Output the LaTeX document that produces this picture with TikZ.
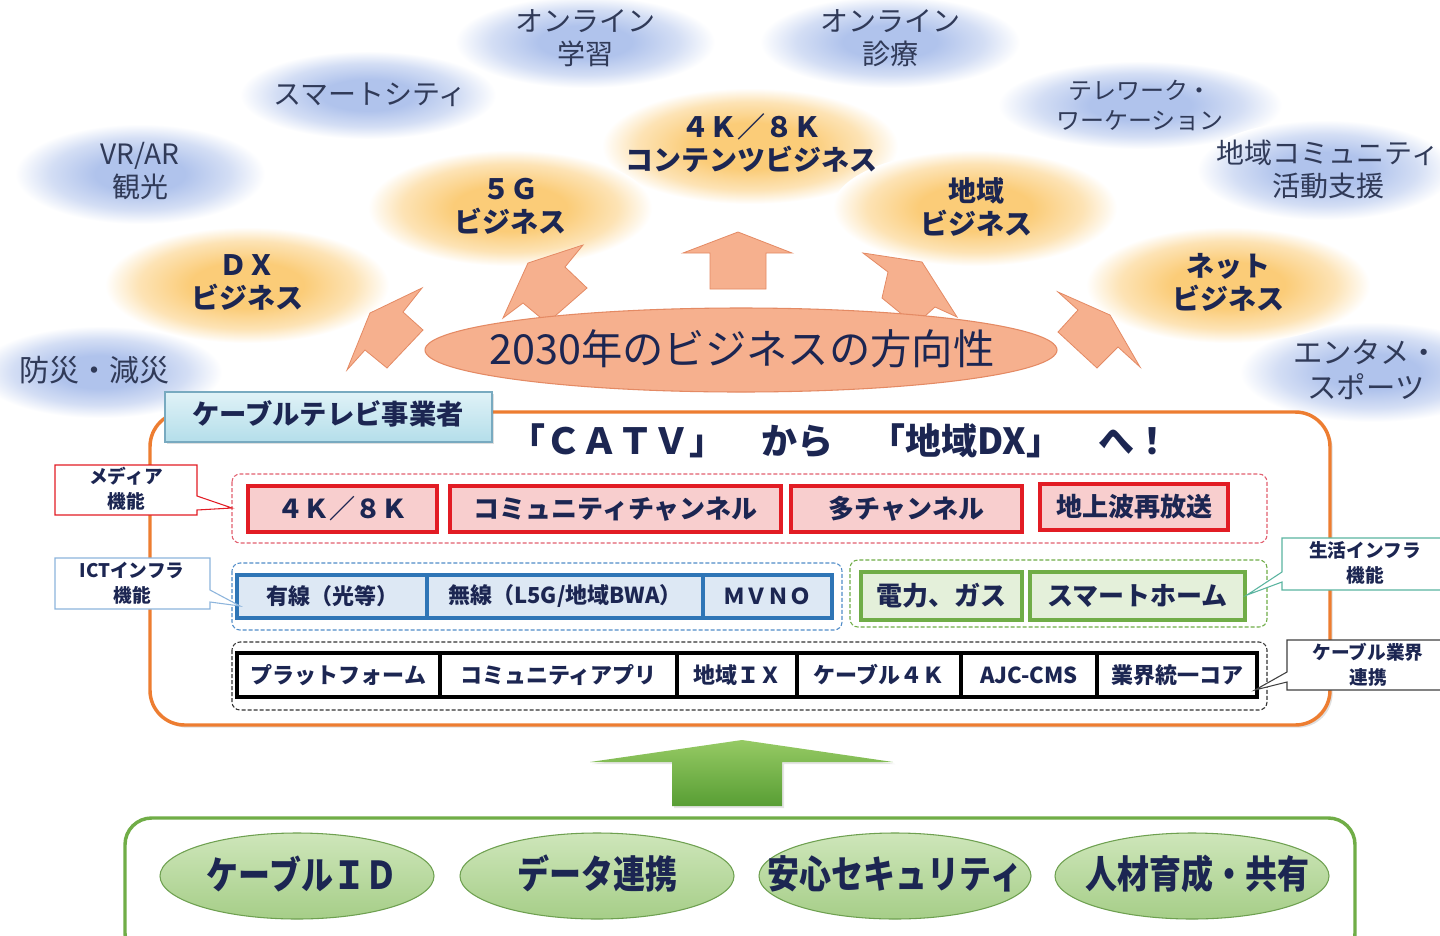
\documentclass[tikz,border=0pt]{standalone}
\usepackage{fontspec}
\setmainfont{Noto Sans CJK JP}
\usetikzlibrary{shadows}
\definecolor{cb}{RGB}{176,195,236}
\definecolor{co}{RGB}{251,204,120}
\definecolor{navy}{RGB}{28,38,82}
\definecolor{cloudtext}{RGB}{48,58,88}
\definecolor{salmon}{RGB}{246,176,142}
\definecolor{salmonedge}{RGB}{228,138,100}
\definecolor{orangeedge}{RGB}{237,125,49}
\definecolor{redline}{RGB}{226,28,36}
\definecolor{redfill}{RGB}{248,206,206}
\definecolor{reddash}{RGB}{226,96,112}
\definecolor{blueline}{RGB}{46,117,182}
\definecolor{bluefill}{RGB}{221,232,244}
\definecolor{bluedash}{RGB}{80,140,200}
\definecolor{greenline}{RGB}{112,173,71}
\definecolor{greenfill}{RGB}{228,240,218}
\definecolor{cyantop}{RGB}{224,242,247}
\definecolor{cyanbot}{RGB}{180,222,234}
\definecolor{cyanedge}{RGB}{120,170,192}
\definecolor{ictedge}{RGB}{140,180,220}
\definecolor{lifeedge}{RGB}{90,180,160}
\definecolor{gtop}{RGB}{206,230,186}
\definecolor{gbot}{RGB}{166,206,136}
\definecolor{gedge}{RGB}{110,160,80}
\definecolor{garrtop}{RGB}{150,202,100}
\definecolor{garrbot}{RGB}{88,158,52}
\pgfdeclareradialshading{bluecloud}{\pgfpoint{0bp}{0bp}}{color(0bp)=(cb); color(9bp)=(cb); color(18bp)=(cb!55!white); color(25bp)=(white); color(50bp)=(white)}
\pgfdeclareradialshading{orangecloud}{\pgfpoint{0bp}{0bp}}{color(0bp)=(co); color(10bp)=(co); color(19bp)=(co!55!white); color(25bp)=(white); color(50bp)=(white)}
\begin{document}
\begin{tikzpicture}[x=0.75pt,y=-0.75pt,
  ctxt/.style={text=cloudtext, align=center, inner sep=0pt, font=\fontsize{21}{24.75}\selectfont},
  ctxtsmall/.style={text=cloudtext, align=center, inner sep=0pt, font=\fontsize{18}{22.5}\selectfont},
  otxt/.style={text=navy, align=center, inner sep=0pt, font=\bfseries\fontsize{21}{24.75}\selectfont},
  barrow/.style={fill=salmon, draw=salmonedge, line width=0.6pt},
  grp/.style={rounded corners=6pt, line width=0.8pt, dash pattern=on 3pt off 1.5pt},
  rbox/.style={fill=redfill, draw=redline, line width=2.4pt},
  bbox/.style={fill=bluefill, draw=blueline, line width=2.4pt},
  gbox/.style={fill=greenfill, draw=greenline, line width=2.4pt},
  kbox/.style={fill=white, draw=black, line width=2.8pt},
  rtxt/.style={text=navy, inner sep=0pt, font=\bfseries\fontsize{19.5}{22}\selectfont},
  btxt/.style={text=navy, inner sep=0pt, font=\bfseries\fontsize{16.5}{20}\selectfont},
  ktxt/.style={text=navy, inner sep=0pt, font=\bfseries\fontsize{16.5}{20}\selectfont},
  calltxt/.style={text=navy, align=center, inner sep=0pt, font=\bfseries\fontsize{14}{18.75}\selectfont},
  geli/.style={top color=gtop, bottom color=gbot, draw=gedge, line width=0.8pt},
  gtxt/.style={text=navy, inner sep=0pt, font=\bfseries\fontsize{24}{28}\selectfont},
]
\useasboundingbox (0,0) rectangle (1440,936);
\clip (0,0) rectangle (1440,936);
\fill[white] (0,0) rectangle (1440,936);

% ---- blue clouds
\shade[shading=bluecloud] (585,42) ellipse [x radius=130, y radius=46];
\shade[shading=bluecloud] (890,42) ellipse [x radius=130, y radius=46];
\shade[shading=bluecloud] (368,95) ellipse [x radius=128, y radius=44];
\shade[shading=bluecloud] (140,174) ellipse [x radius=125, y radius=50];
\shade[shading=bluecloud] (100,372) ellipse [x radius=122, y radius=46];
\shade[shading=bluecloud] (1140,105) ellipse [x radius=142, y radius=44];
\shade[shading=bluecloud] (1325,170) ellipse [x radius=128, y radius=50];
\shade[shading=bluecloud] (1372,372) ellipse [x radius=132, y radius=50];
% ---- orange clouds
\shade[shading=orangecloud] (750,146) ellipse [x radius=148, y radius=58];
\shade[shading=orangecloud] (510,208) ellipse [x radius=142, y radius=58];
\shade[shading=orangecloud] (975,208) ellipse [x radius=142, y radius=58];
\shade[shading=orangecloud] (247,285) ellipse [x radius=142, y radius=58];
\shade[shading=orangecloud] (1228,285) ellipse [x radius=142, y radius=58];

\node[ctxt] (c1) at (585,38.5) {オンライン\\学習};
\node[ctxt] (c2) at (890,38.5) {オンライン\\診療};
\node[ctxt] (c3) at (370,95) {スマートシティ};
\node[ctxt] (c4) at (140,171.5) {VR/AR\\観光};
\node[ctxt, font=\fontsize{22.5}{26}\selectfont] (c5) at (95,370) {防災・減災};
\node[ctxtsmall] (c6) at (1140,105) {テレワーク・\\ワーケーション};
\node[ctxt] (c7) at (1328,169) {地域コミュニティ\\活動支援};
\node[ctxt, font=\fontsize{22}{26.5}\selectfont] (c8) at (1366,370) {エンタメ・\\スポーツ};

\node[otxt] (o1) at (751,143.5) {４Ｋ／８Ｋ\\コンテンツビジネス};
\node[otxt] (o2) at (510,206.5) {５Ｇ\\ビジネス};
\node[otxt] (o3) at (976,206.5) {地域\\ビジネス};
\node[otxt] (o4) at (247,282) {ＤＸ\\ビジネス};
\node[otxt] (o5) at (1228,282) {ネット\\ビジネス};

% ---- salmon arrows
\draw[barrow] (370,313) -- (422,288) -- (403,312) -- (423,330) -- (387,368) -- (365,350) -- (347,370) -- cycle;
\draw[barrow] (528,263) -- (583,245) -- (565,267) -- (587,288) -- (547,323) -- (523,303) -- (503,318) -- cycle;
\draw[barrow] (738,232) -- (792,253) -- (766,253) -- (766,289) -- (710,289) -- (710,253) -- (683,253) -- cycle;
\draw[barrow] (863,253) -- (922,262) -- (957,317) -- (935,307) -- (915,325) -- (882,298) -- (888,272) -- cycle;
\draw[barrow] (1058,292) -- (1110,315) -- (1140,367) -- (1118,347) -- (1097,368) -- (1058,332) -- (1078,310) -- cycle;

% ---- direction ellipse
\draw[fill=salmon, draw=salmonedge, line width=0.8pt] (741,350) ellipse [x radius=316, y radius=42];
\node[text=navy, inner sep=0pt, font=\fontsize{31}{35}\selectfont] (dir) at (742,349) {2030年のビジネスの方向性};

% ---- main box
\draw[draw=orangeedge, line width=2.6pt, fill=white, rounded corners=26pt,
  drop shadow={shadow xshift=2pt, shadow yshift=-2pt, opacity=0.25}] (150,412) rectangle (1330,725);
\draw[top color=cyantop, bottom color=cyanbot, draw=cyanedge, line width=0.8pt,
  drop shadow={shadow xshift=1.5pt, shadow yshift=-1.5pt, opacity=0.25}] (165,392) rectangle (492,442);
\node[text=navy, inner sep=0pt, font=\bfseries\fontsize{20.5}{24}\selectfont] (op) at (328,414) {ケーブルテレビ事業者};
\node[text=navy, inner sep=0pt, font=\bfseries\fontsize{27}{30}\selectfont] (title) at (840,441) {「ＣＡＴＶ」　から　「地域DX」　へ！};

% ---- groups
\draw[grp, draw=reddash] (232,474) rectangle (1267,543);
\draw[grp, draw=bluedash] (232,563) rectangle (842,630);
\draw[grp, draw=greenline] (850,560) rectangle (1267,627);
\draw[grp, draw=black!80] (232,642) rectangle (1267,710);

% red boxes
\draw[rbox] (248,486) rectangle (437,532);
\draw[rbox] (450,486) rectangle (781,532);
\draw[rbox] (791,486) rectangle (1022,532);
\draw[rbox] (1040,484) rectangle (1228,530);
\node[rtxt] (r1) at (342.5,509) {４Ｋ／８Ｋ};
\node[rtxt] (r2) at (615.5,509) {コミュニティチャンネル};
\node[rtxt] (r3) at (906.5,509) {多チャンネル};
\node[rtxt] (r4) at (1134,507) {地上波再放送};

% blue boxes
\draw[bbox] (237,575) rectangle (427,618);
\draw[bbox] (427,575) rectangle (703,618);
\draw[bbox] (703,575) rectangle (832,618);
\node[btxt] (b1) at (332,596.5) {有線（光等）};
\node[btxt] (b2) at (565,596.5) {無線（L5G/地域BWA）};
\node[btxt] (b3) at (767.5,596.5) {ＭＶＮＯ};

% green boxes
\draw[gbox] (861,572) rectangle (1022,620);
\draw[gbox] (1030,572) rectangle (1245,620);
\node[rtxt] (g1) at (941.5,596) {電力、ガス};
\node[rtxt] (g2) at (1137.5,596) {スマートホーム};

% black boxes
\draw[kbox] (237,653) rectangle (440,697);
\draw[kbox] (440,653) rectangle (677,697);
\draw[kbox] (677,653) rectangle (797,697);
\draw[kbox] (797,653) rectangle (961,697);
\draw[kbox] (961,653) rectangle (1097,697);
\draw[kbox] (1097,653) rectangle (1257,697);
\node[ktxt] (k1) at (338.5,675) {プラットフォーム};
\node[ktxt] (k2) at (558.5,675) {コミュニティアプリ};
\node[ktxt] (k3) at (737,675) {地域ＩＸ};
\node[ktxt] (k4) at (879,675) {ケーブル４Ｋ};
\node[ktxt] (k5) at (1029,675) {AJC-CMS};
\node[ktxt] (k6) at (1177,675) {業界統一コア};

% ---- callouts
\draw[fill=white, draw=redline, line width=0.8pt] (55,465) -- (197,465) -- (197,496) -- (232,508) -- (197,510) -- (197,515) -- (55,515) -- cycle;
\node[calltxt] (m1) at (126,489) {メディア\\機能};
\draw[fill=white, draw=ictedge, line width=0.8pt] (55,558) -- (210,558) -- (210,590) -- (240,606) -- (210,602) -- (210,609) -- (55,609) -- cycle;
\node[calltxt] (m2) at (132,583) {ICTインフラ\\機能};
\draw[fill=white, draw=lifeedge, line width=0.8pt] (1282,538) -- (1446,538) -- (1446,590) -- (1282,590) -- (1282,582) -- (1247,595) -- (1282,572) -- cycle;
\node[calltxt] (m3) at (1365,563) {生活インフラ\\機能};
\draw[fill=white, draw=black!75, line width=0.8pt] (1287,640) -- (1446,640) -- (1446,690) -- (1287,690) -- (1287,682) -- (1255,690) -- (1287,672) -- cycle;
\node[calltxt] (m4) at (1368,665) {ケーブル業界\\連携};

% ---- green arrow
\draw[top color=garrtop, bottom color=garrbot, draw=none,
  drop shadow={shadow xshift=1.5pt, shadow yshift=-1.5pt, opacity=0.2}]
  (742,740) -- (893,762) -- (782,762) -- (782,806) -- (672,806) -- (672,762) -- (590,762) -- cycle;

% ---- bottom box
\draw[draw=greenline, line width=2.6pt, fill=white, rounded corners=20pt] (125,818) rectangle (1355,960);
\draw[geli] (297,876) ellipse [x radius=137, y radius=43];
\draw[geli] (597,876) ellipse [x radius=137, y radius=43];
\draw[geli] (895,876) ellipse [x radius=136, y radius=43];
\draw[geli] (1192,876) ellipse [x radius=137, y radius=43];
\node[gtxt] (e1) at (302,874) {\scalebox{1}[1.2]{ケーブルＩＤ}};
\node[gtxt] (e2) at (597,874) {\scalebox{1}[1.2]{データ連携}};
\node[gtxt] (e3) at (895,874) {\scalebox{1}[1.2]{安心セキュリティ}};
\node[gtxt] (e4) at (1197,874) {\scalebox{1}[1.2]{人材育成・共有}};
\end{tikzpicture}
\end{document}
